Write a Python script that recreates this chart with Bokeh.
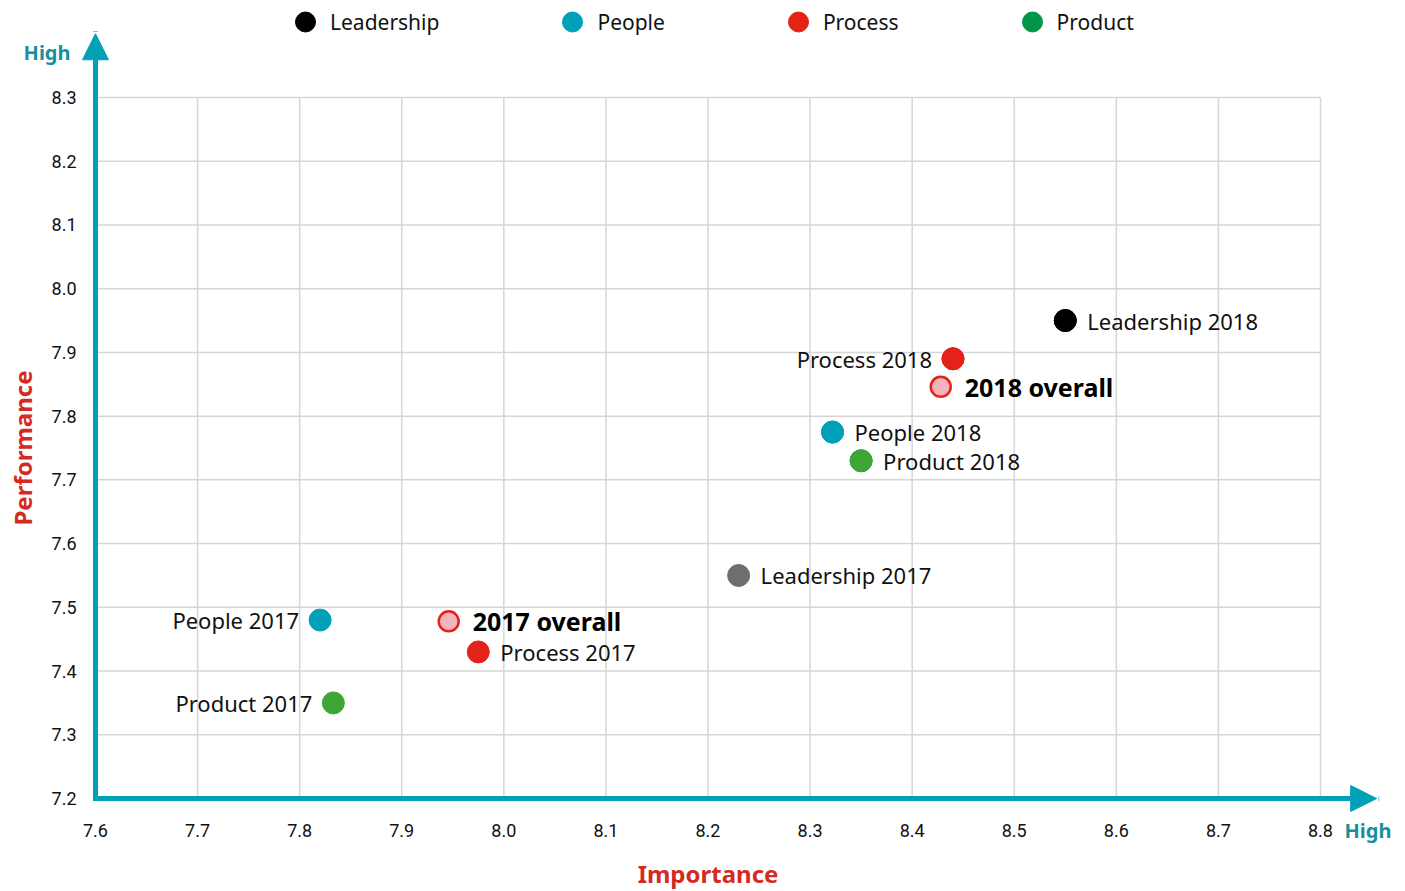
from bokeh.plotting import figure
from bokeh.models import (Range1d, FixedTicker, Arrow, NormalHead, Label, Legend,
                          LegendItem, ColumnDataSource, CustomJSTickFormatter)
from bokeh.core.properties import value
from bokeh.embed import file_html
from bokeh.resources import INLINE

# ---------------- data ----------------
categories = ["Leadership", "People", "Process", "Product"]
legend_colors = ["#000000", "#00a0b8", "#e42313", "#00974a"]

point_labels = ["Leadership 2018", "Process 2018", "People 2018", "Product 2018",
                "Leadership 2017", "People 2017", "Process 2017", "Product 2017"]
importance = [8.55, 8.44, 8.322, 8.35, 8.23, 7.82, 7.975, 7.833]
performance = [7.95, 7.89, 7.775, 7.73, 7.55, 7.48, 7.43, 7.35]
point_colors = ["#000000", "#e3231a", "#00a0b8", "#3da637",
                "#6e6e6e", "#00a0b8", "#e3231a", "#3da637"]
label_side = ["right", "left", "right", "right", "right", "left", "right", "left"]

overall_labels = ["2018 overall", "2017 overall"]
overall_importance = [8.428, 7.946]
overall_performance = [7.846, 7.478]

x_ticks = [7.6, 7.7, 7.8, 7.9, 8.0, 8.1, 8.2, 8.3, 8.4, 8.5, 8.6, 8.7, 8.8]
y_ticks = [7.2, 7.3, 7.4, 7.5, 7.6, 7.7, 7.8, 7.9, 8.0, 8.1, 8.2, 8.3]

# ---------------- style / layout ----------------
TEAL = "#00a0b6"
TEAL_TEXT = "#16909f"
RED_TITLE = "#d42a1f"
GRID = "#d6d6d6"
FONT = "Noto Sans"
TICK_FONT = "Roboto"

W, H = 1400, 890
X0, X1 = 7.50694, 8.87837
Y0, Y1 = 7.05563, 8.45222
X_TIP, Y_TIP = 8.855, 8.40

p = figure(width=W, height=H, x_range=Range1d(X0, X1), y_range=Range1d(Y0, Y1),
           output_backend="svg", toolbar_location=None,
           min_border=0, min_border_left=0, min_border_right=0,
           min_border_top=0, min_border_bottom=0)
p.outline_line_color = None
p.grid.visible = False
p.background_fill_color = "white"

for ax, ticks, loc in ((p.xaxis, x_ticks, y_ticks[0]), (p.yaxis, y_ticks, x_ticks[0])):
    ax.fixed_location = loc
    ax.ticker = FixedTicker(ticks=ticks)
    ax.formatter = CustomJSTickFormatter(code="return tick.toFixed(1)")
    ax.axis_line_color = None
    ax.major_tick_line_color = None
    ax.minor_tick_line_color = None
    ax.major_tick_in = 0
    ax.major_tick_out = 0
    ax.major_label_text_font = TICK_FONT
    ax.major_label_text_font_size = "18px"
    ax.major_label_text_color = "#111111"
p.xaxis.major_label_standoff = 26
p.yaxis.major_label_standoff = 19

# grid lines limited to the tick span
p.segment(x0=x_ticks, y0=[y_ticks[0]] * len(x_ticks), x1=x_ticks, y1=[y_ticks[-1]] * len(x_ticks),
          line_color=GRID, line_width=1.5)
p.segment(x0=[x_ticks[0]] * len(y_ticks), y0=y_ticks, x1=[x_ticks[-1]] * len(y_ticks), y1=y_ticks,
          line_color=GRID, line_width=1.5)

# axis arrows
for xe, ye in ((X_TIP, y_ticks[0]), (x_ticks[0], Y_TIP)):
    p.add_layout(Arrow(end=NormalHead(size=26, fill_color=TEAL, line_color=TEAL, line_width=1),
                       x_start=x_ticks[0], y_start=y_ticks[0], x_end=xe, y_end=ye,
                       line_color=TEAL, line_width=5, line_cap="square"))

# legend renderers (hidden beneath each category's 2018 point)
items = []
for cat, col in zip(categories, legend_colors):
    i = point_labels.index(cat + " 2018")
    r = p.scatter(x=[importance[i]], y=[performance[i]], size=22, fill_color=col, line_color=col)
    items.append(LegendItem(label=cat, renderers=[r]))

# points
src = ColumnDataSource(dict(
    x=importance, y=performance, color=point_colors, label=point_labels,
    align=["left" if s == "right" else "right" for s in label_side],
    xo=[22 if s == "right" else -21 for s in label_side],
))
p.scatter("x", "y", source=src, size=22, fill_color="color", line_color="color")
p.text("x", "y", text="label", source=src, text_align="align", text_baseline="middle",
       x_offset="xo", y_offset=0, text_font=value(FONT), text_font_size="22px",
       text_color="#111111")

osrc = ColumnDataSource(dict(x=overall_importance, y=overall_performance, label=overall_labels))
p.scatter("x", "y", source=osrc, size=20, fill_color="#f5b4ba", line_color="#e3231a",
          line_width=2.5)
p.text("x", "y", text="label", source=osrc, text_align="left", text_baseline="middle",
       x_offset=24, y_offset=0, text_font=value(FONT), text_font_size="25px",
       text_font_style="bold", text_color="#000000")

legend = Legend(items=items, orientation="horizontal", location=(280, 841),
                glyph_width=50, glyph_height=55, label_standoff=0, spacing=108,
                padding=0, margin=0, border_line_color=None, background_fill_alpha=0,
                label_text_font=FONT, label_text_font_size="21px", label_text_color="#111111")
p.add_layout(legend, "center")

# axis titles and "High" labels
p.add_layout(Label(x=(x_ticks[0] + x_ticks[-1]) / 2, y=y_ticks[0], y_offset=-75, text="Importance",
                   text_align="center", text_baseline="middle", text_font=FONT,
                   text_font_size="24px", text_font_style="bold", text_color=RED_TITLE))
p.add_layout(Label(x=x_ticks[0], y=(y_ticks[0] + y_ticks[-1]) / 2, x_offset=-73, text="Performance",
                   angle=1.5707963, text_align="center", text_baseline="middle", text_font=FONT,
                   text_font_size="24px", text_font_style="bold", text_color=RED_TITLE))
p.add_layout(Label(x=x_ticks[0], y=Y_TIP, x_offset=-25, y_offset=-19, text="High",
                   text_align="right", text_baseline="middle", text_font=FONT,
                   text_font_size="20px", text_font_style="bold", text_color=TEAL_TEXT))
p.add_layout(Label(x=x_ticks[-1], y=y_ticks[0], x_offset=24, y_offset=-32, text="High",
                   text_align="left", text_baseline="middle", text_font=FONT,
                   text_font_size="20px", text_font_style="bold", text_color=TEAL_TEXT))

open("out.html", "w").write(file_html(p, INLINE))
